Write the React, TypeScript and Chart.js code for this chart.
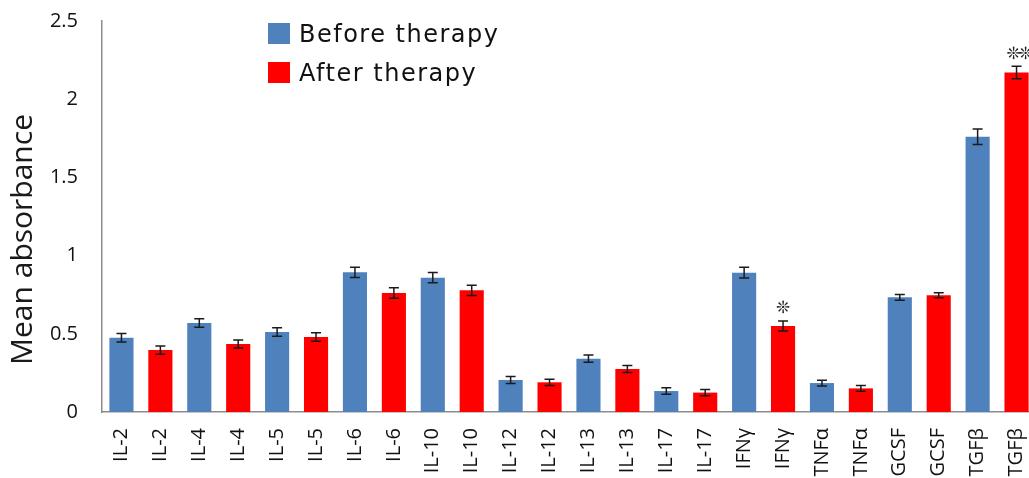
import { useEffect, useRef } from "react";
import { Chart, registerables } from "chart.js";

Chart.register(...registerables);

const cytokines = ["IL-2", "IL-4", "IL-5", "IL-6", "IL-10", "IL-12", "IL-13", "IL-17", "IFNγ", "TNFα", "GCSF", "TGFβ"];
const beforeValues = [0.475, 0.569, 0.511, 0.893, 0.859, 0.205, 0.341, 0.134, 0.891, 0.185, 0.733, 1.76];
const afterValues = [0.396, 0.435, 0.48, 0.761, 0.778, 0.19, 0.275, 0.124, 0.55, 0.151, 0.746, 2.17];
const beforeErrors = [0.027, 0.027, 0.027, 0.033, 0.033, 0.022, 0.023, 0.021, 0.035, 0.018, 0.018, 0.05];
const afterErrors = [0.026, 0.026, 0.027, 0.033, 0.033, 0.02, 0.022, 0.02, 0.032, 0.019, 0.016, 0.04];
const afterStars = [0, 0, 0, 0, 0, 0, 0, 0, 1, 0, 0, 2];
const seriesNames = ["Before therapy", "After therapy"];
const seriesColors = ["#4F81BD", "#FF0000"];
const yTitle = "Mean absorbance";
const yMin = 0;
const yMax = 2.5;
const yStep = 0.5;

const labels = cytokines.flatMap((c) => [c, c]);
const beforeData = cytokines.flatMap((_, i) => [beforeValues[i], null]);
const afterData = cytokines.flatMap((_, i) => [null, afterValues[i]]);
const beforeErr = cytokines.flatMap((_, i) => [beforeErrors[i], null]);
const afterErr = cytokines.flatMap((_, i) => [null, afterErrors[i]]);
const beforeStarData = cytokines.flatMap(() => [0, 0]);
const afterStarData = cytokines.flatMap((_, i) => [0, afterStars[i]]);
const errorSets = [beforeErr, afterErr];
const starSets = [beforeStarData, afterStarData];

const extrasPlugin = {
  id: "extras",
  afterDatasetsDraw(chart: any) {
    const ctx = chart.ctx;
    const y = chart.scales.y;
    ctx.save();
    chart.data.datasets.forEach((ds: any, di: number) => {
      const meta = chart.getDatasetMeta(di);
      meta.data.forEach((el: any, i: number) => {
        const v = ds.data[i];
        const e = errorSets[di][i];
        if (v == null || e == null) return;
        const x = el.x;
        const yt = y.getPixelForValue(v + e);
        const yb = y.getPixelForValue(v - e);
        ctx.strokeStyle = "#1a1a1a";
        ctx.lineWidth = 1.5;
        ctx.beginPath();
        ctx.moveTo(x, yt);
        ctx.lineTo(x, yb);
        ctx.moveTo(x - 5, yt);
        ctx.lineTo(x + 5, yt);
        ctx.moveTo(x - 5, yb);
        ctx.lineTo(x + 5, yb);
        ctx.stroke();
        const n = starSets[di][i];
        if (n > 0) {
          ctx.fillStyle = "#222";
          ctx.font = '17px "DejaVu Sans"';
          ctx.textAlign = "center";
          ctx.textBaseline = "middle";
          const gap = 12;
          for (let k = 0; k < n; k++) {
            const sx = x + (k - (n - 1) / 2) * gap + (n > 1 ? 3 : 0);
            ctx.fillText("❊", sx, yt - 12);
          }
        }
      });
    });
    ctx.restore();
  },
  afterDraw(chart: any) {
    const ctx = chart.ctx;
    const area = chart.chartArea;
    ctx.save();
    ctx.fillStyle = "#1a1a1a";
    ctx.font = '30px "Open Sans"';
    ctx.textAlign = "center";
    ctx.textBaseline = "alphabetic";
    ctx.translate(32, (area.top + area.bottom) / 2 + 23);
    ctx.rotate(-Math.PI / 2);
    ctx.fillText(yTitle, 0, 0);
    ctx.restore();

    ctx.save();
    const lx = area.left + 166;
    chart.data.datasets.forEach((ds: any, di: number) => {
      const cy = 33.5 + di * 39;
      ctx.fillStyle = ds.backgroundColor;
      ctx.fillRect(lx, cy - 10.5, 22, 21);
      ctx.fillStyle = "#111";
      ctx.font = '24px "DejaVu Sans"';
      try {
        (ctx as any).letterSpacing = "1.5px";
      } catch (e) {}
      ctx.textAlign = "left";
      ctx.textBaseline = "alphabetic";
      ctx.fillText(ds.label, lx + 31, cy + 8.5);
    });
    ctx.restore();
  },
};

export default function App() {
  const canvasRef = useRef<HTMLCanvasElement | null>(null);

  useEffect(() => {
    if (!canvasRef.current) return;
    const chart = new Chart(canvasRef.current, {
      type: "bar",
      data: {
        labels,
        datasets: [
          {
            label: seriesNames[0],
            data: beforeData,
            backgroundColor: seriesColors[0],
            grouped: false,
            barPercentage: 0.62,
            categoryPercentage: 1,
          } as any,
          {
            label: seriesNames[1],
            data: afterData,
            backgroundColor: seriesColors[1],
            grouped: false,
            barPercentage: 0.62,
            categoryPercentage: 1,
          } as any,
        ],
      },
      options: {
        animation: false,
        responsive: false,
        maintainAspectRatio: false,
        layout: { padding: { top: 21, right: 0, left: 0, bottom: 0 } },
        plugins: { legend: { display: false }, tooltip: { enabled: false } },
        scales: {
          x: {
            grid: { display: false, drawTicks: false },
            border: { color: "#8c8c8c", width: 1.5 },
            ticks: {
              minRotation: 90,
              maxRotation: 90,
              autoSkip: false,
              padding: 16,
              color: "#111",
              font: { family: '"Open Sans"', size: 20 },
            },
            afterFit: (s: any) => {
              s.height = 66;
              s.paddingLeft = 0;
              s.paddingRight = 0;
            },
          },
          y: {
            min: yMin,
            max: yMax,
            grid: { display: false, drawTicks: false },
            border: { color: "#8c8c8c", width: 1.5 },
            ticks: {
              stepSize: yStep,
              padding: 24,
              color: "#111",
              font: { family: '"Open Sans"', size: 20 },
              callback: (v: any) => String(v),
            },
            afterFit: (s: any) => {
              s.width = 102;
              s.paddingTop = 0;
              s.paddingBottom = 0;
            },
          },
        },
      } as any,
      plugins: [extrasPlugin],
    });
    return () => chart.destroy();
  }, []);

  return (
    <div
      style={{
        position: "fixed",
        left: 0,
        top: 0,
        width: 1029,
        height: 478,
        overflow: "hidden",
        background: "#fff",
      }}
    >
      <canvas ref={canvasRef} width={1036} height={478} style={{ display: "block" }} />
    </div>
  );
}
